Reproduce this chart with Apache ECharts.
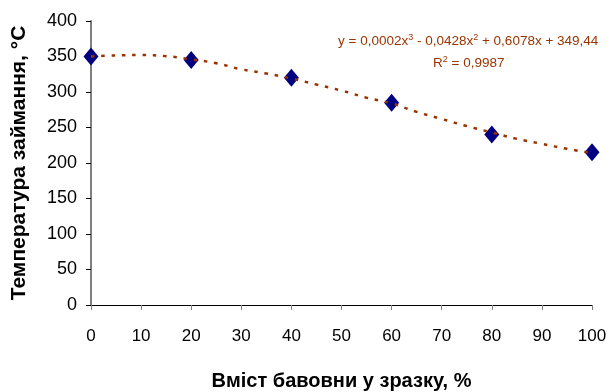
<!DOCTYPE html>
<html>
<head>
<meta charset="utf-8">
<script src="https://cdn.jsdelivr.net/npm/echarts@6/dist/echarts.min.js"></script>
<style>html,body{margin:0;padding:0;background:#fff}#c{width:611px;height:392px}</style>
</head>
<body>
<div id="c"></div>
<script>
// Measured points
var cottonContent = [0, 20, 40, 60, 80, 100];
var ignitionTemp = [350, 345, 320, 285, 240, 215];
// Polynomial trend line
var trendX = [0, 5, 10, 15, 20, 25, 30, 35, 40, 45, 50, 55, 60, 65, 70, 75, 80, 85, 90, 95, 100];
var trendY = [350, 351.5, 352, 350.5, 346, 340.5, 332, 326, 319, 310.5, 302, 292, 284, 272, 262, 252, 243, 234, 227, 220, 214];
var xTicks = {min: 0, max: 100, interval: 10};
var yTicks = {min: 0, max: 400, interval: 50};

var chart = echarts.init(document.getElementById('c'));
var font = 'Liberation Sans, Arial, sans-serif';
chart.setOption({
  animation: false,
  grid: {left: 91, right: 19, top: 21, bottom: 87, containLabel: false, outerBoundsMode: 'none'},
  xAxis: {
    type: 'value', min: xTicks.min, max: xTicks.max, interval: xTicks.interval,
    name: 'Вміст бавовни у зразку, %', nameLocation: 'middle', nameGap: 66,
    nameTextStyle: {fontFamily: font, fontSize: 20, fontWeight: 'bold', color: '#000'},
    axisLine: {lineStyle: {color: '#000', width: 1}},
    axisTick: {show: true, inside: false, length: 5, lineStyle: {color: '#808080'}},
    axisLabel: {fontFamily: font, fontSize: 17, color: '#000', margin: 23},
    splitLine: {show: false}
  },
  yAxis: {
    type: 'value', min: yTicks.min, max: yTicks.max, interval: yTicks.interval,
    name: 'Температура займання, °C', nameLocation: 'middle', nameGap: 61,
    nameTextStyle: {fontFamily: font, fontSize: 21, fontWeight: 'bold', color: '#000'},
    axisLine: {show: true, lineStyle: {color: '#808080', width: 2}},
    axisTick: {show: true, inside: false, length: 5, lineStyle: {color: '#000'}},
    axisLabel: {fontFamily: font, fontSize: 18, color: '#000', margin: 14},
    splitLine: {show: false}
  },
  series: [
    {
      type: 'scatter',
      data: cottonContent.map(function (x, i) { return [x, ignitionTemp[i]]; }),
      symbol: 'diamond', symbolSize: [15, 18],
      itemStyle: {color: '#000080', opacity: 1}, z: 2
    },
    {
      type: 'line',
      data: trendX.map(function (x, i) { return [x, trendY[i]]; }),
      smooth: 0.4, showSymbol: false, symbol: 'none',
      lineStyle: {color: '#993300', width: 2.5, type: [3.5, 6.8]}, z: 3
    }
  ],
  graphic: [
    {
      type: 'text', left: 338, top: 33,
      style: {
        rich: {
          n: {fontFamily: font, fontSize: 13.5, fill: '#993300'},
          s: {fontFamily: font, fontSize: 9, fill: '#993300', padding: [0, 0, 8, 0]}
        },
        text: '{n|y = 0,0002x}{s|3}{n| - 0,0428x}{s|2}{n| + 0,6078x + 349,44}'
      }
    },
    {
      type: 'text', left: 433, top: 55,
      style: {
        rich: {
          n: {fontFamily: font, fontSize: 13.5, fill: '#993300'},
          s: {fontFamily: font, fontSize: 9, fill: '#993300', padding: [0, 0, 8, 0]}
        },
        text: '{n|R}{s|2}{n| = 0,9987}'
      }
    }
  ]
});
</script>
</body>
</html>
